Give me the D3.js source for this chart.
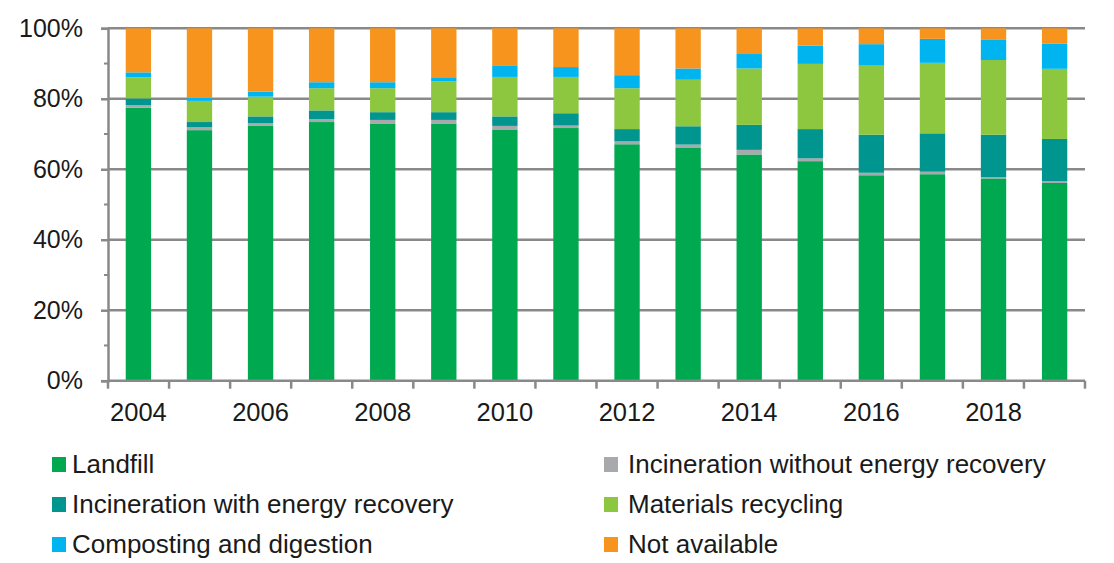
<!DOCTYPE html>
<html>
<head>
<meta charset="utf-8">
<script src="https://cdn.jsdelivr.net/npm/d3@7"></script>
<style>
  html, body { margin: 0; padding: 0; background: #fff; }
  svg { display: block; font-family: "Liberation Sans", Arial, sans-serif; }
</style>
</head>
<body>
<svg id="chart" width="1114" height="563"></svg>
<script>
// Years shown on the x axis (one bar each)
const years = [2004, 2005, 2006, 2007, 2008, 2009, 2010, 2011, 2012, 2013, 2014, 2015, 2016, 2017, 2018, 2019];
// Labelled years (every other year)
const yearLabels = [2004, 2006, 2008, 2010, 2012, 2014, 2016, 2018];

// Share of waste by treatment route, % of total
const landfill            = [77.5, 71.1, 72.3, 73.4, 73.0, 73.0, 71.3, 71.7, 67.1, 66.2, 64.2, 62.3, 58.3, 58.6, 57.4, 56.1];
const incinerationNoEnergy = [0.7, 0.8, 0.8, 0.8, 1.0, 1.0, 1.0, 0.7, 0.8, 0.8, 1.3, 0.8, 0.7, 0.7, 0.4, 0.5];
const incinerationEnergy  = [1.9, 1.5, 1.9, 2.5, 2.2, 2.2, 2.7, 3.5, 3.5, 5.2, 7.1, 8.3, 10.8, 10.9, 12.0, 12.0];
const recycling           = [6.0, 6.0, 5.6, 6.3, 6.8, 8.8, 11.2, 10.3, 11.6, 13.2, 16.0, 18.5, 19.6, 20.0, 21.2, 19.9];
const composting          = [1.4, 0.9, 1.4, 1.7, 1.7, 0.9, 3.3, 2.8, 3.7, 3.2, 4.1, 5.2, 6.1, 6.8, 5.7, 7.2];
const notAvailable        = [12.5, 19.7, 18.0, 15.3, 15.3, 14.1, 10.5, 11.0, 13.3, 11.4, 7.3, 4.9, 4.5, 3.0, 3.3, 4.3];

// Y axis tick values and labels
const yTicks = [0, 20, 40, 60, 80, 100];
const yTickLabels = ["0%", "20%", "40%", "60%", "80%", "100%"];
const yMinorTicks = [10, 30, 50, 70, 90];

// Series, bottom of the stack first
const seriesKeys = ["landfill", "incNoEnergy", "incEnergy", "recycling", "composting", "na"];
const seriesNames = ["Landfill", "Incineration without energy recovery", "Incineration with energy recovery",
                     "Materials recycling", "Composting and digestion", "Not available"];
const seriesValues = [landfill, incinerationNoEnergy, incinerationEnergy, recycling, composting, notAvailable];
const seriesColors = ["#00a94f", "#a7a9ac", "#00968f", "#8dc63f", "#00b5ef", "#f7941d"];

const rows = years.map((yr, i) => {
  const r = { year: yr };
  seriesKeys.forEach((k, s) => { r[k] = seriesValues[s][i]; });
  return r;
});

const svg = d3.select("#chart");
const axisColor = "#898989";
const textColor = "#1a1a1a";

const x = d3.scaleBand().domain(years).range([108, 1085]).paddingInner(0.585).paddingOuter(0.29);
const xEdges = d3.scaleLinear().domain([0, years.length]).range([108, 1085]);
const y = d3.scaleLinear().domain([0, 100]).range([380.7, 28.3]);

// Horizontal gridlines
svg.append("g").selectAll("line").data(yTicks.filter(d => d > 0)).join("line")
  .attr("x1", 108).attr("x2", 1085)
  .attr("y1", d => y(d)).attr("y2", d => y(d))
  .attr("stroke", axisColor).attr("stroke-width", 2.5);

// Stacked bars
const stack = d3.stack().keys(seriesKeys)(rows);
svg.append("g").selectAll("g").data(stack).join("g")
  .attr("fill", (d, i) => seriesColors[i])
  .selectAll("rect").data(d => d).join("rect")
  .attr("x", d => x(d.data.year))
  .attr("width", x.bandwidth())
  .attr("y", d => y(d[1]))
  .attr("height", d => y(d[0]) - y(d[1]));

// Y axis
const yAxis = svg.append("g").attr("transform", "translate(108,0)")
  .call(d3.axisLeft(y).tickValues(yTicks).tickFormat((d, i) => yTickLabels[i]).tickSize(7).tickPadding(18));
yAxis.select(".domain").attr("stroke", axisColor).attr("stroke-width", 2.5);
yAxis.selectAll(".tick line").attr("stroke", axisColor).attr("stroke-width", 2.5);
yAxis.selectAll(".tick text").attr("fill", textColor).style("font-size", "25px")
  .style("font-family", "'Liberation Sans', Arial, sans-serif");
svg.append("g").selectAll("line").data(yMinorTicks).join("line")
  .attr("x1", 104).attr("x2", 108)
  .attr("y1", d => y(d)).attr("y2", d => y(d))
  .attr("stroke", axisColor).attr("stroke-width", 2);

// X axis with ticks at bar boundaries
const xg = svg.append("g");
xg.append("line").attr("x1", 108).attr("x2", 1085).attr("y1", y(0)).attr("y2", y(0))
  .attr("stroke", axisColor).attr("stroke-width", 2.5);
xg.selectAll("line.tk").data(d3.range(years.length + 1)).join("line").attr("class", "tk")
  .attr("x1", d => xEdges(d)).attr("x2", d => xEdges(d))
  .attr("y1", y(0)).attr("y2", y(0) + 8)
  .attr("stroke", axisColor).attr("stroke-width", 2.5);
xg.selectAll("text").data(yearLabels).join("text")
  .attr("x", d => x(d) + x.bandwidth() / 2)
  .attr("y", 421)
  .attr("text-anchor", "middle")
  .attr("fill", textColor)
  .style("font-size", "25.5px")
  .text(d => d);

// Legend: two columns, three rows
const legendOrder = [0, 1, 2, 3, 4, 5];
const legend = svg.append("g").selectAll("g").data(legendOrder).join("g")
  .attr("transform", (d, i) => `translate(${i % 2 === 0 ? 52 : 604},${473 + Math.floor(i / 2) * 40})`);
legend.append("rect").attr("x", 0).attr("y", -16).attr("width", 14).attr("height", 15)
  .attr("fill", d => seriesColors[d]);
legend.append("text").attr("x", d => d % 2 === 0 ? 20 : 24).attr("y", 0)
  .attr("fill", textColor).style("font-size", "26px")
  .text(d => seriesNames[d]);
</script>
</body>
</html>
